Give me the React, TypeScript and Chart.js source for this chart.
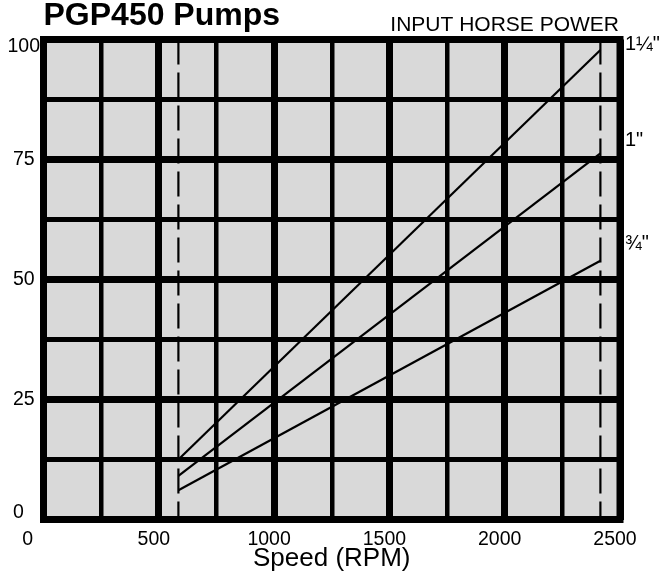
import React, { useEffect, useRef } from 'react';
import { Chart, registerables } from 'chart.js';

Chart.register(...registerables);

const chartTitle = 'PGP450 Pumps';
const chartSubtitle = 'INPUT HORSE POWER';
const xAxisTitle = 'Speed (RPM)';

const xTickValues = [0, 500, 1000, 1500, 2000, 2500];
const xTickLabels = ['0', '500', '1000', '1500', '2000', '2500'];
const yTickValues = [0, 25, 50, 75, 100];
const yTickLabels = ['0', '25', '50', '75', '100'];

// start / end speed of each pump line (RPM)
const lineSpeeds = [585, 2415];
// input horse power at those speeds
const hpOneQuarter = [12.5, 97.8];
const hpOne = [9.1, 76.3];
const hpThreeQuarter = [6.1, 53.9];

const seriesNames = ['1¼"', '1"', '¾"'];
const seriesLabelValues = [99, 79, 57.5];

// dashed speed limits
const limitSpeeds = [585, 2415];
const limitRange = [100, 0];

const FONT = '"Liberation Sans", Arial, Helvetica, sans-serif';

export default function App() {
  const ref = useRef<HTMLCanvasElement>(null);

  useEffect(() => {
    Chart.defaults.font.family = FONT;
    const series = [hpOneQuarter, hpOne, hpThreeQuarter];

    const decor = {
      id: 'decor',
      beforeDraw(chart: any) {
        const { ctx, chartArea: a } = chart;
        ctx.save();
        ctx.fillStyle = '#d9d9d9';
        ctx.fillRect(a.left, a.top, a.right - a.left, a.bottom - a.top);
        ctx.restore();
      },
      beforeDatasetsDraw(chart: any) {
        const { ctx, chartArea: a } = chart;
        ctx.save();
        ctx.strokeStyle = '#000';
        ctx.lineWidth = 7;
        ctx.lineJoin = 'miter';
        ctx.strokeRect(a.left, a.top, a.right - a.left, a.bottom - a.top);
        ctx.restore();
      },
      afterDraw(chart: any) {
        const { ctx, chartArea: a } = chart;
        const yScale = chart.scales.y;
        ctx.save();
        ctx.fillStyle = '#000';
        ctx.font = `21px ${FONT}`;
        ctx.textAlign = 'right';
        ctx.textBaseline = 'alphabetic';
        ctx.fillText(chartSubtitle, a.right - 1, 31);
        ctx.font = `20px ${FONT}`;
        ctx.textAlign = 'left';
        ctx.textBaseline = 'middle';
        seriesNames.forEach((name, i) => {
          ctx.fillText(name, a.right + 5, yScale.getPixelForValue(seriesLabelValues[i]));
        });
        ctx.restore();
      },
    };

    const chart = new Chart(ref.current as HTMLCanvasElement, {
      type: 'line',
      data: {
        datasets: [
          ...series.map((vals, i) => ({
            label: seriesNames[i],
            data: lineSpeeds.map((x, j) => ({ x, y: vals[j] })),
            borderColor: '#000',
            borderWidth: 2.2,
            pointRadius: 0,
            fill: false,
            tension: 0,
          })),
          ...limitSpeeds.map((s) => ({
            label: 'limit',
            data: limitRange.map((y) => ({ x: s, y })),
            borderColor: '#000',
            borderWidth: 2.2,
            borderDash: [25, 8],
            pointRadius: 0,
            fill: false,
          })),
        ],
      },
      options: {
        animation: false,
        responsive: true,
        maintainAspectRatio: false,
        layout: { padding: { left: 0, top: 0, right: 41, bottom: 0 } },
        plugins: {
          legend: { display: false },
          tooltip: { enabled: false },
          title: {
            display: true,
            text: chartTitle,
            align: 'start',
            fullSize: false,
            color: '#000',
            font: { size: 32, weight: 'bold', lineHeight: 1 },
            padding: { top: 0.3, bottom: 7.2 },
          },
        },
        scales: {
          x: {
            type: 'linear',
            min: 0,
            max: 2500,
            afterFit: (s: any) => {
              s.height = 62.5;
            },
            ticks: {
              stepSize: 250,
              autoSkip: false,
              maxRotation: 0,
              padding: 8.6,
              labelOffset: -5,
              color: '#000',
              font: { size: 19.5, lineHeight: 1.2 },
              callback: (v: any) => {
                const i = xTickValues.indexOf(Number(v));
                if (i < 0) return '';
                return i === 0 ? xTickLabels[0] + '    ' : xTickLabels[i];
              },
            },
            grid: {
              color: '#000',
              lineWidth: (c: any) => (c.tick && c.tick.value % 500 === 0 ? 7 : 4.5),
              drawTicks: false,
            },
            border: { display: false },
            title: {
              display: true,
              text: xAxisTitle,
              color: '#000',
              font: { size: 26, lineHeight: 1.2 },
              padding: { top: 0, bottom: 7.5 },
            },
          },
          y: {
            type: 'linear',
            min: 0,
            max: 100,
            afterFit: (s: any) => {
              s.width = 43.5;
            },
            ticks: {
              stepSize: 12.5,
              autoSkip: false,
              padding: 3.5,
              crossAlign: 'center',
              color: '#000',
              font: { size: 19.5, lineHeight: 0.7 },
              callback: (v: any) => {
                const i = yTickValues.indexOf(Number(v));
                if (i < 0) return '';
                const t = yTickLabels[i];
                if (Number(v) === 100) return ['', t];
                if (Number(v) === 0) return [t + '  ', ''];
                return t;
              },
            },
            grid: {
              color: '#000',
              lineWidth: (c: any) => (c.tick && c.tick.value % 25 === 0 ? 7 : 5),
              drawTicks: false,
            },
            border: { display: false },
          },
        },
      },
      plugins: [decor],
    } as any);

    return () => chart.destroy();
  }, []);

  return (
    <div style={{ position: 'absolute', left: 0, top: 0, width: 661, height: 582, background: '#fff' }}>
      <canvas ref={ref} />
    </div>
  );
}
